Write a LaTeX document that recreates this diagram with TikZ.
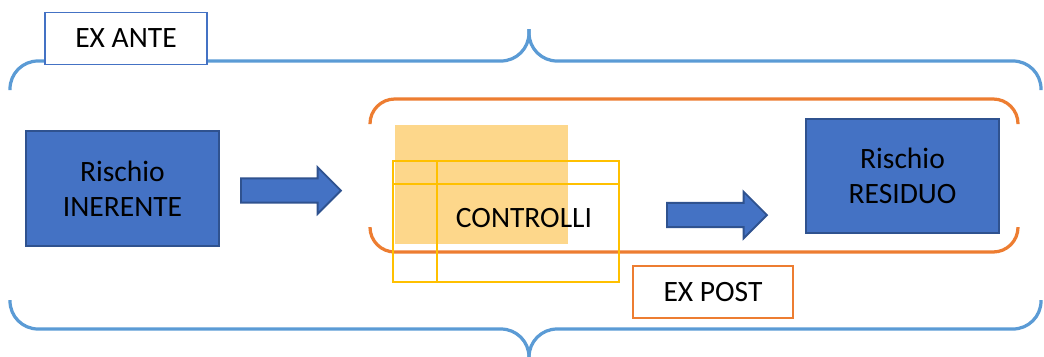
\documentclass[tikz,border=0pt]{standalone}
\usepackage{fontspec}
\setmainfont{Carlito}
\usepackage{xcolor}
\usepackage{tikz}
\usetikzlibrary{positioning,shapes.arrows}

\definecolor{boxblue}{HTML}{4472C4}
\definecolor{boxdark}{HTML}{2F528F}
\definecolor{braceblue}{HTML}{5B9BD5}
\definecolor{postorange}{HTML}{ED7D31}
\definecolor{gridgold}{HTML}{FFC000}
\definecolor{softorange}{HTML}{FDD78B}

\tikzset{
  bigfont/.style = {font=\fontsize{21}{25}\selectfont},
  riskbox/.style = {bigfont, draw=boxdark, fill=boxblue, line width=1.3pt,
                    minimum width=4.825cm, minimum height=2.875cm, align=center},
  tagbox/.style = {bigfont, fill=white, line width=1.4pt,
                   minimum width=4.05cm, minimum height=1.3cm},
  bigarrow/.style = {single arrow, draw=boxdark, fill=boxblue, line width=1.3pt,
                     minimum height=2.5cm, inner xsep=0pt, inner ysep=0.28cm,
                     single arrow head extend=0.28cm, single arrow tip angle=90,
                     anchor=west},
  brace/.style = {draw=braceblue, line width=2.3pt, rounded corners=0.7cm},
  bracket/.style = {draw=postorange, line width=2.3pt, rounded corners=0.62cm},
  grid/.style = {draw=gridgold, line width=1.4pt}
}

\begin{document}
\begin{tikzpicture}[x=0.025cm, y=-0.025cm]
    \useasboundingbox (0,0) rectangle (1044,356);

    % the two big braces
    \draw[brace] (10,90) -- (10,61) -- (529,61) -- (529,29);
    \draw[brace] (1041,90) -- (1041,61) -- (529,61) -- (529,29);
    \draw[brace] (10,300) -- (10,329) -- (529,329) -- (529,355);
    \draw[brace] (1041,300) -- (1041,329) -- (529,329) -- (529,355);

    % the orange bracket
    \draw[bracket] (370,124) -- (370,99) -- (1018,99) -- (1018,124);
    \draw[bracket] (370,227) -- (370,252) -- (1018,252) -- (1018,227);

    % controls
    \fill[softorange] (395,125) rectangle (568,244);
    \draw[grid] (393,161) rectangle (619,282);
    \draw[grid] (393,184) -- (619,184);
    \draw[grid] (437,161) -- (437,282);
    \node[bigfont] (controlli) at (524,218) {CONTROLLI};

    % risks and arrows
    \node[riskbox] (inerente) at (122.5,188.5) {Rischio\\INERENTE};
    \node[riskbox, minimum height=2.85cm] (residuo) at (902.5,176) {Rischio\\RESIDUO};
    \node[bigarrow] (freccia1) at (240,190.5) {};
    \node[bigarrow] (freccia2) at (666,215) {};

    % labels
    \node[tagbox, draw=boxblue] (exante) at (126,38.5) {EX ANTE};
    \node[tagbox, draw=postorange, minimum width=4cm] (expost) at (713,292) {EX POST};
\end{tikzpicture}
\end{document}
